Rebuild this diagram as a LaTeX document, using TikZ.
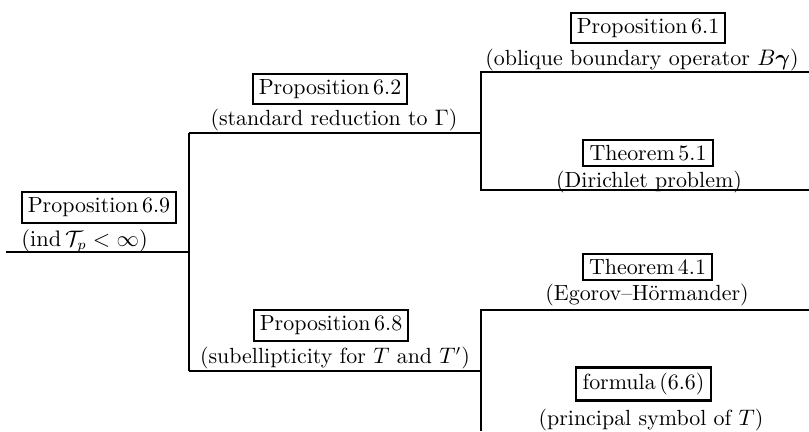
\documentclass[tikz,border=0pt]{standalone}
\usepackage{amsmath}
\begin{document}
\begin{tikzpicture}[x=0.488pt,y=-0.488pt,
  every node/.style={font=\fontsize{10.7pt}{13pt}\selectfont},
  thm/.style={draw, line width=1pt, inner xsep=3pt, inner ysep=2.7pt},
  note/.style={inner sep=0pt},
  branch/.style={line width=1pt}]
\useasboundingbox (0,0) rectangle (809,431);

% results and their captions
\node[thm] (p69) at (99,207.5) {Proposition\,6.9};
\node[note, anchor=west] (p69n) at (21,241) {$(\operatorname{ind}\mathcal{T}_p<\infty)$};

\node[thm] (p62) at (330,89) {Proposition\,6.2};
\node[note] (p62n) at (334,120) {(standard reduction to $\Gamma$)};

\node[thm] (p68) at (331,325.5) {Proposition\,6.8};
\node[note] (p68n) at (335,358) {(subellipticity for $T$ and $T'$)};

\node[thm] (p61) at (648,28) {Proposition\,6.1};
\node[note] (p61n) at (642,60) {(oblique boundary operator $B\boldsymbol{\gamma}$)};

\node[thm] (t51) at (648,153) {Theorem\,5.1};
\node[note] (t51n) at (649,182) {(Dirichlet problem)};

\node[thm] (t41) at (647.5,267) {Theorem\,4.1};
\node[note] (t41n) at (647,295) {(Egorov--H\"ormander)};

\node[thm] (f66) at (643.5,384) {formula\,(6.6)};
\node[note] (f66n) at (651,420) {(principal symbol of $T$)};

% bracket junctions
\coordinate (r0) at (6,252);
\coordinate (r1) at (189,252);
\coordinate (a0) at (189,133);
\coordinate (b0) at (189,371);
\coordinate (a1) at (481,133);
\coordinate (b1) at (481,371);
\coordinate (c0) at (481,72);
\coordinate (c1) at (809,72);
\coordinate (d0) at (481,190);
\coordinate (d1) at (809,190);
\coordinate (e0) at (481,310);
\coordinate (e1) at (809,310);
\coordinate (f0) at (481,431);

\draw[branch] (r0) -- (r1);
\draw[branch] (a0) -- (b0);
\draw[branch] (a0) -- (a1);
\draw[branch] (b0) -- (b1);
\draw[branch] (c1) -- (c0) -- (d0) -- (d1);
\draw[branch] (e1) -- (e0) -- (f0);
\end{tikzpicture}
\end{document}
